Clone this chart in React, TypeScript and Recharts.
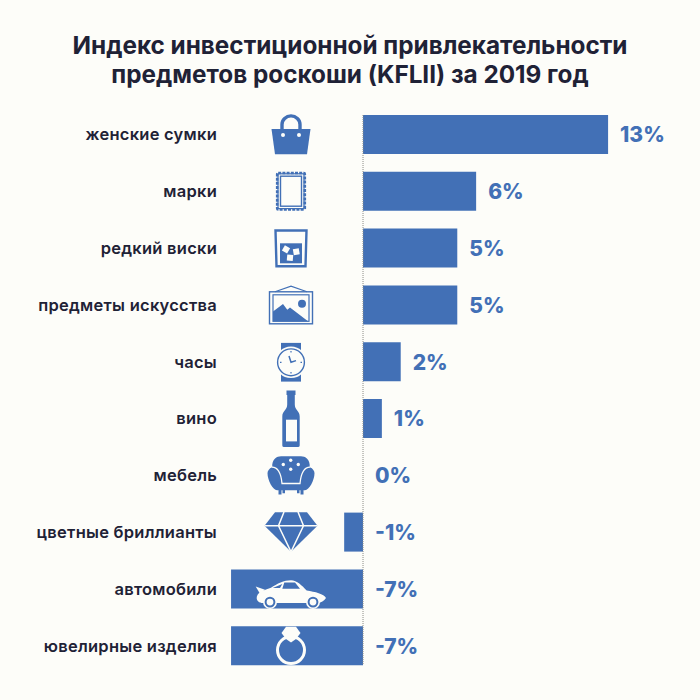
import { ComposedChart, Bar, Line, XAxis, YAxis, ReferenceLine } from "recharts";

const BLUE = "#4270b6";
const BG = "#fdfdf9";
const INK = "#1f2236";
const FONT = "Inter, sans-serif";

const categories = [
  "женские сумки",
  "марки",
  "редкий виски",
  "предметы искусства",
  "часы",
  "вино",
  "мебель",
  "цветные бриллианты",
  "автомобили",
  "ювелирные изделия",
];
const values = [13, 6, 5, 5, 2, 1, 0, -1, -7, -7];
const valueLabels = ["13%", "6%", "5%", "5%", "2%", "1%", "0%", "-1%", "-7%", "-7%"];
const titleLines = [
  "Индекс инвестиционной привлекательности",
  "предметов роскоши (KFLII) за 2019 год",
];

const rows = categories.map((name, i) => ({ name, value: values[i] }));

// pictograms, drawn around (0, 0)
function Bag() {
  return (
    <g>
      <path d="M-9 -4V-10A9 8.5 0 0 1 9 -10V-4" fill="none" stroke={BLUE} strokeWidth={3.4} />
      <path d="M-19.5 -5.5H19.5L16 19.8H-16Z" fill={BLUE} />
      <circle cx={-8} cy={0.5} r={2} fill={BG} />
      <circle cx={8} cy={0.5} r={2} fill={BG} />
    </g>
  );
}

function Stamp() {
  return (
    <g fill="none" stroke={BLUE}>
      <rect x={-13.8} y={-18.2} width={27.6} height={36.4} rx={1} strokeWidth={2.6} strokeDasharray="3 1.2" />
      <rect x={-13} y={-17.4} width={26} height={34.8} strokeWidth={1.2} />
      <rect x={-10.5} y={-15} width={21} height={30} strokeWidth={1.4} />
    </g>
  );
}

function Glass() {
  return (
    <g>
      <path d="M-15.5 -17.5H15.5L14.5 18.2H-14.5Z" fill="none" stroke={BLUE} strokeWidth={2.4} />
      <rect x={-11} y={-4.7} width={22} height={20} fill={BLUE} />
      <rect x={-8} y={-1.7} width={6} height={6} fill={BG} transform="rotate(30 -5 1.3)" />
      <rect x={2.3} y={0.7} width={6} height={6} fill={BG} transform="rotate(-10 5.3 3.7)" />
      <rect x={-4} y={6.7} width={6} height={6} fill={BG} transform="rotate(5 -1 9.7)" />
    </g>
  );
}

function Painting() {
  return (
    <g>
      <path d="M-16 -13L0 -18.7L16 -13" fill="none" stroke={BLUE} strokeWidth={1.2} />
      <rect x={-21.5} y={-13} width={43} height={32} fill="none" stroke={BLUE} strokeWidth={1.4} />
      <rect x={-18} y={-10} width={36} height={26.5} fill="none" stroke={BLUE} strokeWidth={1.2} />
      <path d="M-18 16.5V6.6L-8 -0.7L-3.7 5L-1 2.7L17 16.5Z" fill={BLUE} />
      <circle cx={11} cy={-1} r={4} fill={BLUE} />
    </g>
  );
}

function Watch() {
  return (
    <g>
      <rect x={-10} y={-18.7} width={20} height={38.7} fill={BLUE} />
      <circle cx={0} cy={0.7} r={15.8} fill={BG} />
      <circle cx={0} cy={0.7} r={13.4} fill={BG} stroke={BLUE} strokeWidth={1.4} />
      <path d="M-2 -5.5L0 0.7L5 -1" fill="none" stroke={BLUE} strokeWidth={1.5} />
      <path d="M0 -10.5V-9M0 10.5V12M-11 0.7H-9.5M9.5 0.7H11" stroke={BLUE} strokeWidth={1.2} />
    </g>
  );
}

function Bottle() {
  return (
    <g>
      <path
        d="M-4.5 -28H4.5V-23.5H3.8V-14C3.8 -8 8.7 -8 8.7 -2V27A1.8 1.8 0 0 1 7 28.7H-7A1.8 1.8 0 0 1 -8.7 27V-2C-8.7 -8 -3.8 -8 -3.8 -14V-23.5H-4.5Z"
        fill={BLUE}
      />
      <rect x={-5} y={1.3} width={11} height={21.7} fill={BG} />
    </g>
  );
}

function Armchair() {
  return (
    <g>
      <path d="M-12.5 14H-9.5V19.3H-12.5ZM-8.5 14H-6V18H-8.5ZM6 14H8.5V18H6ZM9.5 14H12.5V19.3H9.5Z" fill={BLUE} />
      <path
        d="M-18.7 -8C-19.5 -16 -14 -19 -10 -19H10C14 -19 19.5 -16 18.7 -8C22 -7 23.5 -4 23.5 -2C23.5 5 18 15 14 15H-14C-18 15 -23.5 5 -23.5 -2C-23.5 -4 -22 -7 -18.7 -8Z"
        fill={BLUE}
      />
      <path
        d="M-19 -8C-13 -8 -10 -2 -9 8.3H9C10 -2 13 -8 19 -8"
        fill="none"
        stroke={BG}
        strokeWidth={1.3}
      />
      <circle cx={-7.7} cy={-10.7} r={1.7} fill={BG} />
      <circle cx={-0.3} cy={-15} r={1.7} fill={BG} />
      <circle cx={7.3} cy={-10.7} r={1.7} fill={BG} />
      <circle cx={-0.3} cy={-6} r={1.7} fill={BG} />
    </g>
  );
}

function Diamond() {
  return (
    <g>
      <path d="M-16 -19.7H16L26.5 -6.3L0 19.7L-26.5 -6.3Z" fill={BLUE} />
      <path
        d="M-26.5 -6.3H26.5M-7 -20L-12.5 -6.3L0 19.7L12.5 -6.3L7 -20"
        fill="none"
        stroke={BG}
        strokeWidth={1.5}
      />
    </g>
  );
}

function Car() {
  return (
    <g>
      <path d="M-35.3 -2.3L-26 1L-31 5Z" fill={BG} />
      <path
        d="M-34.3 9.3C-34.3 4 -28 1.5 -20 -1C-14 -5 -7 -8.5 0 -8.5C6 -8.5 11 -3 15.7 1.7C24 3 33 5 35 9.3C33 12 30 14.3 27 14.3H-28C-32 14.3 -34.3 12 -34.3 9.3Z"
        fill={BG}
      />
      <path d="M-18.3 -0.7L-8.7 -4.7L-11 -0.7Z M-6.7 -6.3H4L9 0H-8.7Z" fill={BLUE} />
      <circle cx={-21} cy={13.3} r={7} fill={BG} />
      <circle cx={22} cy={13.3} r={7} fill={BG} />
      <circle cx={-21} cy={13.3} r={4.4} fill={BG} stroke={BLUE} strokeWidth={2} />
      <circle cx={22} cy={13.3} r={4.4} fill={BG} stroke={BLUE} strokeWidth={2} />
    </g>
  );
}

function Ring() {
  return (
    <g>
      <circle cx={0} cy={4.5} r={13.5} fill="none" stroke={BG} strokeWidth={3} />
      <path d="M-5 -18.8H5L9.5 -12.5L5 -6.5H-5L-9.5 -12.5Z" fill={BG} />
      <path d="M-5 -6.5L0 -3L5 -6.5Z" fill={BG} />
    </g>
  );
}

const ICONS = [Bag, Stamp, Glass, Painting, Watch, Bottle, Armchair, Diamond, Car, Ring];

function CategoryTick({ y, payload }: any) {
  return (
    <text
      x={217}
      y={y}
      dy={6}
      textAnchor="end"
      fontFamily={FONT}
      fontSize={16.5}
      fontWeight={600}
      letterSpacing={0.25}
      fill={INK}
    >
      {payload.value}
    </text>
  );
}

// the invisible line gives one point per row, also for the 0 row that has no bar
function RowMarks({ cx, cy, index }: any) {
  const Icon = ICONS[index];
  const x = values[index] > 0 ? cx + 12 : 375;
  return (
    <g key={index}>
      <g transform={`translate(291 ${cy})`}>
        <Icon />
      </g>
      <text x={x} y={cy} dy={8} fontFamily={FONT} fontSize={21} fontWeight={800} fill={BLUE}>
        {valueLabels[index]}
      </text>
    </g>
  );
}

function ZeroLine({ x1, x2, y1, y2 }: any) {
  const top = Math.min(y1, y2);
  const bottom = Math.max(y1, y2);
  return (
    <line x1={x1} x2={x2} y1={top + 9} y2={bottom - 9} stroke="#8b8b86" strokeWidth={1} strokeDasharray="1 1" />
  );
}

export default function App() {
  return (
    <div style={{ position: "absolute", left: 0, top: 0, width: 700, height: 700, background: BG }}>
      <div
        style={{
          position: "absolute",
          top: 31,
          width: 700,
          textAlign: "center",
          fontFamily: FONT,
          fontSize: 24.3,
          lineHeight: "29px",
          fontWeight: 700,
          color: INK,
        }}
      >
        {titleLines.map((line) => (
          <div key={line}>{line}</div>
        ))}
      </div>
      <ComposedChart
        width={700}
        height={700}
        layout="vertical"
        data={rows}
        barSize={39}
        margin={{ top: 106, right: 16.5, bottom: 26, left: 173.5 }}
      >
        <XAxis type="number" hide domain={[-10, 17]} />
        <YAxis
          type="category"
          dataKey="name"
          width={1}
          interval={0}
          axisLine={false}
          tickLine={false}
          tick={<CategoryTick />}
        />
        <ReferenceLine x={0} shape={<ZeroLine />} />
        <Bar dataKey="value" fill={BLUE} isAnimationActive={false} />
        <Line
          dataKey="value"
          stroke="none"
          dot={<RowMarks />}
          activeDot={false}
          legendType="none"
          isAnimationActive={false}
        />
      </ComposedChart>
    </div>
  );
}
